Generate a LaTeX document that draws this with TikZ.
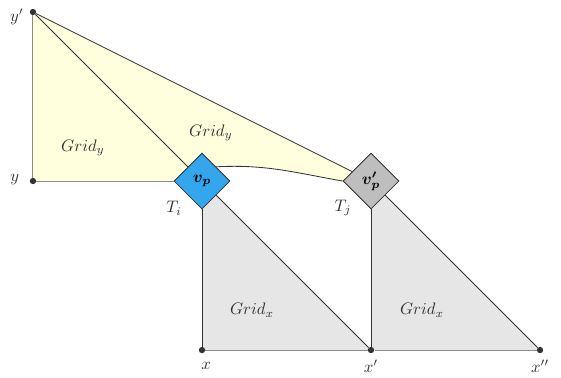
\documentclass[tikz,border=0pt]{standalone}
\usepackage{amsmath}
\usepackage{bm}
\usetikzlibrary{shapes.geometric, positioning, calc, backgrounds}
\definecolor{cYellow}{RGB}{255,255,221}
\definecolor{cGrey}{RGB}{230,230,230}
\definecolor{cBlue}{RGB}{51,166,238}
\definecolor{cNode}{RGB}{190,190,190}
\definecolor{cInk}{RGB}{51,51,51}
\definecolor{cRim}{RGB}{140,140,140}
\tikzset{
	vert/.style ={diamond, aspect=1, draw=cInk, line width=0.5pt, minimum size=33.6pt, inner sep=0pt, text=black},
	dot/.style  ={circle, fill=cInk, inner sep=0pt, minimum size=3.8pt},
	edge/.style ={draw=cInk, line width=0.5pt},
	rim/.style  ={draw=cRim, line width=0.6pt},
	lbl/.style  ={text=cInk},
}
\begin{document}
\begin{tikzpicture}[x=3.564cm, y=3.564cm]
	\useasboundingbox (-1.195,-0.160) rectangle (2.124,2.071);
	% grid points
	\node[dot] (yp) at (-1,2) {};
	\node[dot] (y) at (-1,1) {};
	\node[dot] (x) at (0,0) {};
	\node[dot] (xp) at (1,0) {};
	\node[dot] (xpp) at (2,0) {};
	% triangles (vertices)
	\node[vert, fill=cBlue] (vp) at (0,1) {$\bm{v_p}$};
	\node[vert, fill=cNode] (vpp) at (1,1) {$\bm{v'_p}$};
	% shaded grids
	\begin{scope}[on background layer]
		\fill[cYellow] (yp.center) -- (y.center) -- (vp.center) -- (vp.north east)
			to[out=3, in=170] (vpp.west) -- (vpp.center) -- cycle;
		\fill[cGrey] (vp.center) -- (x.center) -- (xp.center) -- cycle;
		\fill[cGrey] (vpp.center) -- (xp.center) -- (xpp.center) -- cycle;
	\end{scope}
	\draw[rim] (yp) -- (y) -- (vp);
	\draw[rim] (x) -- (xp) -- (xpp);
	\draw[edge] (yp) -- (vp);
	\draw[edge] (yp) -- (vpp);
	\draw[edge] (vp.north east) to[out=3, in=170] (vpp.west);
	\draw[edge] (vp) -- (x);
	\draw[edge] (vp) -- (xp);
	\draw[edge] (vpp) -- (xp);
	\draw[edge] (vpp) -- (xpp);
	% labels
	\node[lbl] (lyp) at (-1.095,1.970) {$y'$};
	\node[lbl] (ly) at (-1.107,1.006) {$y$};
	\node[lbl] (lx) at (0.024,-0.095) {$x$};
	\node[lbl] (lxp) at (1.0,-0.095) {$x'$};
	\node[lbl] (lxpp) at (2.0,-0.095) {$x''$};
	\node[lbl] (ti) at ($(vp)+(-0.166,-0.16)$) {$T_i$};
	\node[lbl] (tj) at ($(vpp)+(-0.166,-0.16)$) {$T_j$};
	\node[lbl] (gy1) at (-0.704,1.195) {$Grid_y$};
	\node[lbl] (gy2) at (0.053,1.284) {$Grid_y$};
	\node[lbl] (gx1) at (0.296,0.237) {$Grid_x$};
	\node[lbl] (gx2) at (1.302,0.237) {$Grid_x$};
\end{tikzpicture}
\end{document}
